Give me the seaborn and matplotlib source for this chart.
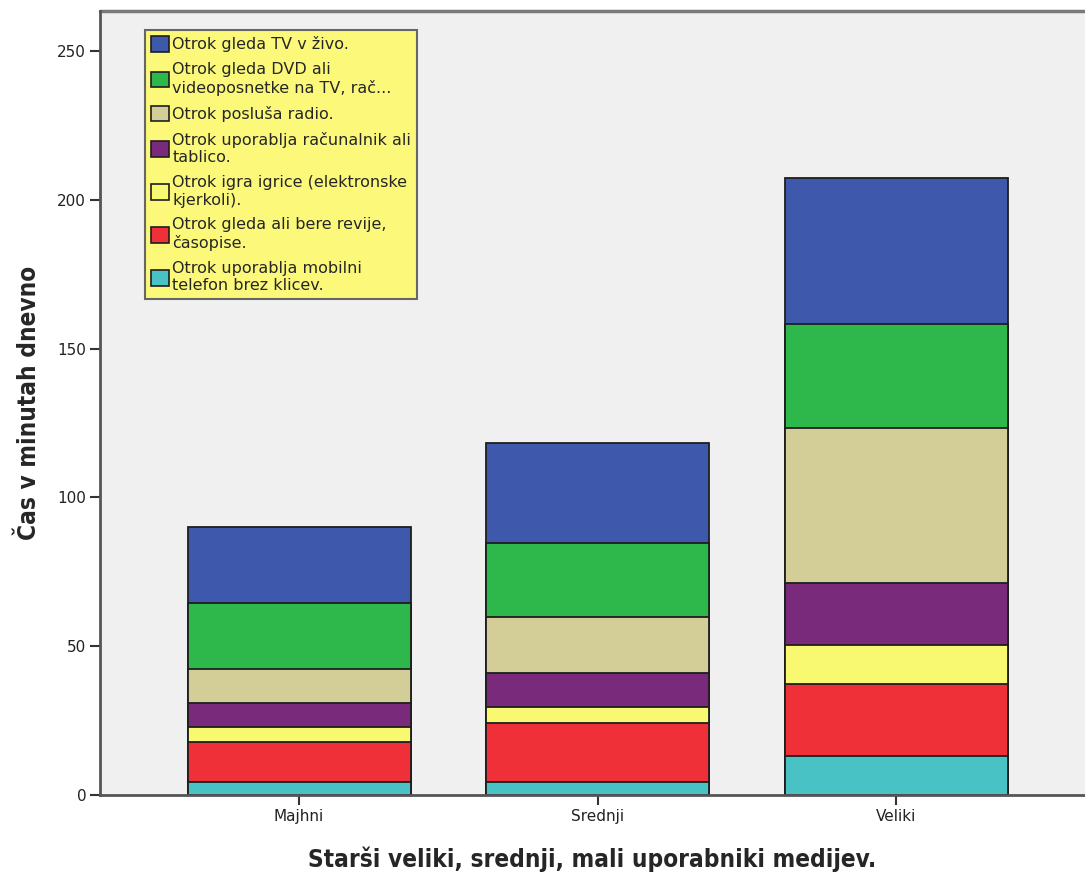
import numpy as np
import matplotlib
matplotlib.use("Agg")
import matplotlib.pyplot as plt
from matplotlib.patches import Patch
import seaborn as sns

# categories on x
skupine = ["Majhni", "Srednji", "Veliki"]

# series (bottom -> top of stack), minutes per day
mobilni = [4.4, 4.4, 13.1]
revije = [13.4, 19.8, 24.2]
igrice = [5.0, 5.4, 13.1]
racunalnik = [8.1, 11.4, 20.8]
radio = [11.4, 18.8, 52.1]
dvd = [22.2, 24.9, 35.0]
tv = [25.5, 33.6, 49.0]

oznake = [
    "Otrok uporablja mobilni\ntelefon brez klicev.",
    "Otrok gleda ali bere revije,\nčasopise.",
    "Otrok igra igrice (elektronske\nkjerkoli).",
    "Otrok uporablja računalnik ali\ntablico.",
    "Otrok posluša radio.",
    "Otrok gleda DVD ali\nvideoposnetke na TV, rač...",
    "Otrok gleda TV v živo.",
]
barve = ["#48c2c5", "#ef3038", "#f9f871", "#7a2a7a", "#d3ce97", "#2eb84b", "#3e58ac"]

sns.set_style("white")
plt.rcParams["font.family"] = ["DejaVu Sans"]

fig = plt.figure(figsize=(10.85, 8.76), dpi=100)
ax = fig.add_axes([0.0922, 0.0925, 0.9078, 0.8944])
ax.set_facecolor("#f0f0f0")

serije = [mobilni, revije, igrice, racunalnik, radio, dvd, tv]
kumul = np.cumsum(np.array(serije), axis=0)

# draw from top of stack down so lower pieces overlay
for i in range(len(serije) - 1, -1, -1):
    sns.barplot(x=skupine, y=kumul[i], color=barve[i], saturation=1,
                width=0.747, edgecolor="#1e1e1e", linewidth=1.3, ax=ax)

ax.set_xlim(-0.667, 2.633)
ax.set_ylim(0, 263.3)
ax.set_yticks([0, 50, 100, 150, 200, 250])

for s in ["top", "right"]:
    ax.spines[s].set_visible(False)
ax.spines["left"].set_color("#555555")
ax.spines["bottom"].set_color("#555555")
ax.spines["left"].set_linewidth(2)
ax.spines["bottom"].set_linewidth(2)
ax.axhline(263.3, color="#7a7a7a", linewidth=2.5, clip_on=False)

ax.tick_params(axis="both", direction="out", length=7, width=1.5,
               color="#333333", labelsize=11, labelcolor="#222222",
               bottom=True, left=True, pad=3)

ax.set_xlabel("Starši veliki, srednji, mali uporabniki medijev.",
              fontsize=17.5, fontweight="bold", fontstretch="condensed",
              labelpad=16)
ax.set_ylabel("Čas v minutah dnevno", fontsize=17.5, fontweight="bold",
              fontstretch="condensed", labelpad=12)

handles = [Patch(facecolor=barve[i], edgecolor="#1e1e1e", linewidth=1.2)
           for i in range(len(barve) - 1, -1, -1)]
leg = ax.legend(handles, oznake[::-1], loc="upper left",
                bbox_to_anchor=(0.0457, 0.976), borderaxespad=0,
                fontsize=11.5, frameon=True, fancybox=False,
                handlelength=1.15, handleheight=1.15, handletextpad=0.2,
                labelspacing=0.62, borderpad=0.35)
leg.get_frame().set_facecolor("#fbf87a")
leg.get_frame().set_edgecolor("#666666")
leg.get_frame().set_linewidth(1.5)
leg.get_frame().set_alpha(1)

fig.savefig("out.png", dpi=100)
